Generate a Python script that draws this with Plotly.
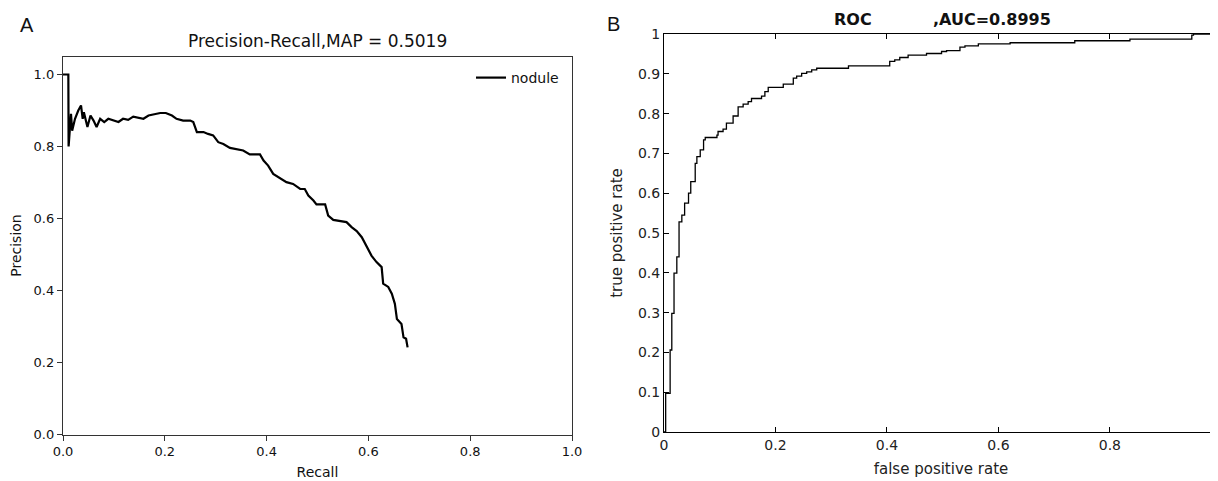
import plotly.graph_objects as go

# ---- Panel A: Precision-Recall ----
recall = [0.0, 0.0105, 0.011, 0.0157, 0.018, 0.0236, 0.030, 0.0354, 0.0387, 0.041, 0.048, 0.054,
          0.060, 0.066, 0.073, 0.081, 0.089, 0.099, 0.109, 0.118, 0.128, 0.138, 0.148, 0.158,
          0.168, 0.181, 0.191, 0.202, 0.214, 0.223, 0.236, 0.250, 0.256, 0.263, 0.276, 0.285,
          0.295, 0.305, 0.315, 0.328, 0.341, 0.354, 0.367, 0.387, 0.394, 0.403, 0.413, 0.426,
          0.439, 0.452, 0.466, 0.475, 0.482, 0.492, 0.498, 0.515, 0.521, 0.531, 0.544, 0.557,
          0.567, 0.577, 0.587, 0.597, 0.606, 0.616, 0.626, 0.629, 0.639, 0.646, 0.652, 0.656,
          0.665, 0.669, 0.674, 0.677]
precision = [1.0, 1.0, 0.80, 0.891, 0.844, 0.877, 0.90, 0.914, 0.877, 0.895, 0.854, 0.886,
             0.872, 0.854, 0.877, 0.868, 0.877, 0.872, 0.868, 0.877, 0.874, 0.883, 0.880, 0.877,
             0.886, 0.891, 0.893, 0.893, 0.886, 0.877, 0.872, 0.872, 0.868, 0.840, 0.840, 0.835,
             0.831, 0.812, 0.807, 0.796, 0.793, 0.789, 0.778, 0.778, 0.761, 0.747, 0.724, 0.713,
             0.701, 0.696, 0.682, 0.682, 0.664, 0.650, 0.639, 0.639, 0.608, 0.596, 0.593, 0.590,
             0.576, 0.565, 0.548, 0.520, 0.497, 0.479, 0.465, 0.419, 0.410, 0.391, 0.363, 0.321,
             0.307, 0.270, 0.266, 0.242]
pr_ticks = [0.0, 0.2, 0.4, 0.6, 0.8, 1.0]
pr_title = "Precision-Recall,MAP = 0.5019"
pr_series = "nodule"

# ---- Panel B: ROC ----
fpr = [0, 0.003, 0.011, 0.014, 0.018, 0.023, 0.027, 0.032, 0.037, 0.044, 0.048, 0.056, 0.059,
       0.065, 0.071, 0.074, 0.095, 0.097, 0.106, 0.112, 0.124, 0.133, 0.142, 0.151, 0.157,
       0.175, 0.181, 0.187, 0.214, 0.232, 0.238, 0.247, 0.256, 0.265, 0.274, 0.331, 0.405,
       0.414, 0.423, 0.438, 0.471, 0.498, 0.507, 0.531, 0.540, 0.564, 0.621, 0.737, 0.836,
       0.947, 0.950, 1.0]
tpr = [0, 0.097, 0.206, 0.298, 0.399, 0.44, 0.528, 0.545, 0.575, 0.600, 0.629, 0.675, 0.692,
       0.709, 0.734, 0.740, 0.746, 0.755, 0.761, 0.776, 0.794, 0.817, 0.824, 0.830, 0.838,
       0.844, 0.855, 0.866, 0.874, 0.889, 0.894, 0.901, 0.905, 0.910, 0.914, 0.920, 0.931,
       0.935, 0.941, 0.947, 0.951, 0.956, 0.958, 0.967, 0.970, 0.975, 0.978, 0.983, 0.987,
       0.997, 1.0, 1.0]
roc_xticks = [0, 0.2, 0.4, 0.6, 0.8, 1]
roc_xlabels = ["0", "0.2", "0.4", "0.6", "0.8", "1"]
roc_yticks = [0, 0.1, 0.2, 0.3, 0.4, 0.5, 0.6, 0.7, 0.8, 0.9, 1]
roc_ylabels = ["0", "0.1", "0.2", "0.3", "0.4", "0.5", "0.6", "0.7", "0.8", "0.9", "1"]
roc_title = "ROC" + "\u00a0" * 11 + ",AUC=0.8995"

# The page body has an 8px margin, so the figure is drawn at (8, 8).
OFF = 8
W, H = 1218 - OFF, 481 - OFF

def px(x):
    return (x - OFF) / W

def py(y):
    return 1 - (y - OFF) / H

fig = go.Figure()
fig.add_trace(go.Scatter(x=recall, y=precision, mode="lines", name=pr_series,
                         line=dict(color="black", width=2.2), xaxis="x", yaxis="y"))
fig.add_trace(go.Scatter(x=fpr, y=tpr, mode="lines", line_shape="hv", showlegend=False,
                         line=dict(color="black", width=1.3), xaxis="x2", yaxis="y2"))

axA = dict(color="#222", linecolor="#333", linewidth=1.3, mirror=True, showgrid=False,
           zeroline=False, ticks="outside", ticklen=5, tickcolor="#333", automargin=False,
           tickfont=dict(family="DejaVu Sans", size=13, color="#111"))
axB = dict(linecolor="black", linewidth=1, mirror="ticks", ticks="inside", ticklen=5,
           tickcolor="black", showgrid=False, zeroline=False, automargin=False,
           tickfont=dict(family="DejaVu Sans", size=14, color="#222"))

fig.update_layout(
    width=W, height=H,
    margin=dict(l=0, r=0, t=0, b=0),
    paper_bgcolor="white", plot_bgcolor="white",
    showlegend=True,
    legend=dict(x=px(564), y=py(62), xanchor="right", yanchor="top",
                bgcolor="rgba(0,0,0,0)", font=dict(family="DejaVu Sans", size=14, color="#111")),
    xaxis=dict(axA, domain=[px(63), px(572)], range=[0, 1], tickvals=pr_ticks,
               tickformat=".1f", anchor="y",
               title=dict(text="Recall", standoff=8,
                          font=dict(family="DejaVu Sans", size=14, color="#111"))),
    yaxis=dict(axA, domain=[py(434.5), py(56.5)], range=[0, 1.05], tickvals=pr_ticks,
               tickformat=".1f", anchor="x",
               title=dict(text="Precision", standoff=8,
                          font=dict(family="DejaVu Sans", size=14, color="#111"))),
    xaxis2=dict(axB, domain=[px(664), 1.0], range=[0, 0.994], anchor="y2",
                tickvals=roc_xticks, ticktext=roc_xlabels,
                title=dict(text="false positive rate", standoff=11,
                           font=dict(family="DejaVu Sans", size=15, color="#222"))),
    yaxis2=dict(axB, domain=[py(432), py(34)], range=[0, 1], anchor="x2",
                tickvals=roc_yticks, ticktext=roc_ylabels,
                title=dict(text="true positive rate", standoff=11,
                           font=dict(family="DejaVu Sans", size=15, color="#222"))),
    annotations=[
        dict(text=pr_title, x=px(317.5), y=py(41), xref="paper", yref="paper",
             xanchor="center", yanchor="middle", showarrow=False,
             font=dict(family="DejaVu Sans", size=17, color="#111")),
        dict(text="<b>" + roc_title + "</b>", x=px(942), y=py(19), xref="paper", yref="paper",
             xanchor="center", yanchor="middle", showarrow=False,
             font=dict(family="DejaVu Sans", size=16, color="#111")),
        dict(text="A", x=px(27), y=py(25), xref="paper", yref="paper",
             xanchor="center", yanchor="middle", showarrow=False,
             font=dict(family="Liberation Sans", size=20, color="#111")),
        dict(text="B", x=px(613), y=py(24), xref="paper", yref="paper",
             xanchor="center", yanchor="middle", showarrow=False,
             font=dict(family="Liberation Sans", size=20, color="#111")),
    ],
)

fig.write_html("out.html")
